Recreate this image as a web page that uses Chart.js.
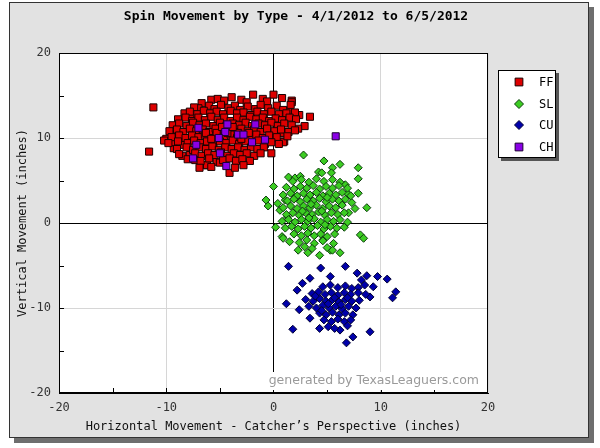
<!DOCTYPE html>
<html lang="en">
<head>
    <meta charset="UTF-8">
    <title>Spin Movement by Type</title>
    <script src="https://cdn.jsdelivr.net/npm/chart.js"></script>
    <style>
        body { margin: 0; background: #fff; }
        canvas { display: block; }
    </style>
</head>
<body>
    <canvas id="spinChart" width="600" height="448"></canvas>

    <script>
        // Chart text
        const chartTitle = 'Spin Movement by Type - 4/1/2012 to 6/5/2012';
        const xTitle = 'Horizontal Movement - Catcher\u2019s Perspective (inches)';
        const yTitle = 'Vertical Movement (inches)';
        const watermark = 'generated by TexasLeaguers.com';

        // Pitch types (legend order)
        const pitchTypes = ['FF', 'SL', 'CU', 'CH'];

        // Axis range / ticks
        const axisMin = -20;
        const axisMax = 20;
        const tickValues = [-20, -10, 0, 10, 20];

        // [horizontal, vertical] in inches
        const ffPoints = [
            [-11.2, 13.6], [-11.6, 8.4], [-10.0, 9.9], [-10.2, 9.7], [-9.1, 10.4], [-9.3, 8.8], [-8.5, 7.9],
            [-6.3, 6.8], [-6.7, 14.1], [-7.6, 12.4], [-3.9, 14.8], [-1.9, 15.1], [0.0, 15.1], [1.7, 14.4],
            [2.4, 12.7], [3.4, 12.5], [2.9, 11.4], [2.3, 11.1], [1.4, 13.2], [-0.2, 8.2], [-4.1, 5.9],
            [1.0, 9.6], [0.0, 10.0], [-5.8, 14.5], [-7.0, 13.5], [-9.4, 9.5], [-8.4, 9.2], [-7.8, 8.0],
            [-7.3, 7.4], [-5.3, 7.2], [-5.0, 7.1], [-6.2, 6.8], [1.7, 14.2], [0.9, 10.6], [0.9, 9.5],
            [-5.2, 14.6], [-4.6, 14.4], [-3.0, 14.5], [-2.5, 14.2], [-1.0, 14.6], [-0.6, 14.3], [0.8, 14.7],
            [-7.4, 13.6], [-6.0, 13.8], [-5.5, 13.4], [-4.9, 13.9], [-4.2, 13.5], [-3.6, 13.8], [-3.1, 13.3],
            [-2.4, 13.7], [-1.7, 13.4], [-1.2, 13.9], [-0.5, 13.5], [0.3, 13.8], [0.9, 13.3], [1.6, 13.9],
            [-8.3, 12.9], [-7.8, 13.1], [-7.1, 12.8], [-6.5, 13.2], [-5.9, 12.9], [-5.3, 13.1], [-4.7, 12.8],
            [-4.0, 13.2], [-3.4, 12.9], [-2.8, 13.0], [-2.1, 12.7], [-1.5, 13.1], [-0.9, 12.8], [-0.2, 13.1],
            [0.5, 12.8], [1.2, 12.9], [2.0, 13.0],
            [-8.9, 12.2], [-8.2, 12.4], [-7.6, 12.0], [-7.0, 12.4], [-6.4, 12.1], [-5.8, 12.5], [-5.2, 12.1],
            [-4.6, 12.4], [-4.0, 12.0], [-3.4, 12.4], [-2.8, 12.1], [-2.2, 12.5], [-1.6, 12.2], [-1.0, 12.4],
            [-0.4, 12.0], [0.2, 12.3], [0.8, 12.1], [1.5, 12.4], [2.1, 12.2],
            [-9.4, 11.5], [-8.8, 11.7], [-8.1, 11.4], [-7.5, 11.8], [-6.9, 11.5], [-6.3, 11.7], [-5.6, 11.4],
            [-5.0, 11.8], [-4.4, 11.4], [-3.8, 11.7], [-3.2, 11.5], [-2.6, 11.8], [-2.0, 11.4], [-1.4, 11.7],
            [-0.8, 11.5], [-0.2, 11.8], [0.4, 11.4], [1.0, 11.7], [1.7, 11.5],
            [-9.7, 10.8], [-9.0, 11.0], [-8.4, 10.7], [-7.8, 11.1], [-7.2, 10.8], [-6.6, 11.0], [-6.0, 10.7],
            [-5.4, 11.1], [-4.8, 10.8], [-4.2, 11.0], [-3.6, 10.7], [-3.0, 11.1], [-2.4, 10.8], [-1.8, 11.0],
            [-1.2, 10.7], [-0.6, 11.1], [0.1, 10.8], [0.7, 11.0], [1.4, 10.7], [2.0, 10.9],
            [-9.5, 10.1], [-8.8, 10.3], [-8.2, 10.0], [-7.6, 10.3], [-7.0, 10.1], [-6.4, 10.4], [-5.8, 10.0],
            [-5.2, 10.3], [-4.6, 10.1], [-4.0, 10.4], [-3.4, 10.0], [-2.8, 10.3], [-2.2, 10.1], [-1.6, 10.4],
            [-1.0, 10.0], [-0.4, 10.3], [0.3, 10.1], [1.3, 10.2],
            [-9.8, 9.4], [-8.9, 9.6], [-8.0, 9.4], [-7.4, 9.7], [-6.8, 9.4], [-6.2, 9.6], [-5.6, 9.3],
            [-5.0, 9.6], [-4.4, 9.4], [-3.8, 9.7], [-3.2, 9.3], [-2.6, 9.6], [-2.0, 9.4], [-1.4, 9.7],
            [-0.8, 9.3], [-0.2, 9.5], [0.5, 9.3],
            [-9.0, 8.7], [-8.1, 8.9], [-7.5, 8.6], [-6.9, 8.9], [-6.3, 8.7], [-5.7, 9.0], [-5.1, 8.6],
            [-4.5, 8.9], [-3.9, 8.7], [-3.3, 8.9], [-2.7, 8.6], [-2.1, 8.9], [-1.5, 8.7], [-0.9, 8.9],
            [-8.8, 8.1], [-7.3, 8.2], [-6.7, 7.9], [-6.1, 8.2], [-5.5, 8.0], [-4.9, 8.3], [-4.3, 7.9],
            [-3.7, 8.2], [-3.1, 8.0], [-2.5, 8.2], [-1.8, 7.9], [-1.2, 8.2],
            [-8.0, 7.5], [-6.8, 7.3], [-6.0, 7.6], [-4.7, 7.4], [-4.1, 7.6], [-3.5, 7.3], [-2.9, 7.5], [-2.2, 7.3],
            [-6.9, 6.5], [-5.8, 6.6], [-3.6, 6.5], [-2.8, 6.8],
            [-5.3, 10.6], [-4.3, 10.6], [-3.3, 10.6], [-6.3, 10.6], [-2.3, 10.6], [-4.8, 11.3], [-3.8, 11.3],
            [-5.8, 9.9], [-3.0, 9.9]
        ];

        const slPoints = [
            [2.8, 8.0], [4.7, 7.3], [6.2, 6.9], [7.9, 6.5], [7.9, 5.2], [7.9, 3.5], [8.7, 1.8], [8.1, -1.4],
            [8.4, -1.8], [0.0, 4.3], [-0.7, 2.7], [-0.5, 2.0], [0.2, -0.5], [0.8, -1.6], [1.5, -2.2],
            [2.3, -3.2], [3.2, -3.5], [4.3, -3.8], [5.3, -3.2], [6.2, -3.5],
            [1.4, 5.4], [2.0, 5.3], [2.5, 5.5], [0.4, 2.3], [1.1, 2.7], [0.6, 1.5], [1.3, 0.7], [0.9, -1.8],
            [5.5, 6.5], [4.2, 6.0], [4.5, 5.9], [5.4, 5.9], [5.5, -3.2], [5.0, -2.9], [4.6, -2.0],
            [7.3, 2.4], [7.0, 1.2], [6.7, 4.5], [6.9, 3.5],
            [1.8, 4.9], [2.6, 5.1], [3.3, 4.8], [4.0, 5.2], [4.7, 4.9], [5.5, 5.1], [6.2, 4.8],
            [1.2, 4.2], [1.9, 4.0], [2.5, 4.3], [3.1, 4.1], [3.7, 4.4], [4.3, 4.0], [4.9, 4.3], [5.5, 4.1],
            [6.1, 4.4], [6.9, 4.1],
            [0.9, 3.3], [1.6, 3.5], [2.2, 3.2], [2.8, 3.5], [3.4, 3.3], [4.0, 3.6], [4.6, 3.2], [5.2, 3.5],
            [5.8, 3.3], [6.4, 3.6], [7.2, 3.2],
            [1.3, 2.6], [1.9, 2.8], [2.5, 2.5], [3.1, 2.8], [3.7, 2.6], [4.3, 2.9], [4.9, 2.5], [5.5, 2.8],
            [6.1, 2.6], [6.7, 2.8],
            [0.9, 1.8], [1.6, 2.0], [2.2, 1.7], [2.8, 2.0], [3.4, 1.8], [4.0, 2.1], [4.6, 1.7], [5.2, 2.0],
            [5.8, 1.8], [6.4, 2.1], [7.6, 1.7],
            [1.2, 1.0], [1.8, 1.2], [2.4, 0.9], [3.0, 1.2], [3.6, 1.0], [4.2, 1.3], [4.8, 0.9], [5.4, 1.2],
            [6.0, 1.0], [6.6, 1.2],
            [0.8, 0.2], [1.4, 0.4], [2.0, 0.1], [2.6, 0.4], [3.2, 0.2], [3.8, 0.5], [4.4, 0.1], [5.0, 0.4],
            [5.6, 0.2], [6.2, 0.4], [6.9, 0.1],
            [1.1, -0.6], [1.7, -0.4], [2.3, -0.7], [2.9, -0.4], [3.5, -0.6], [4.1, -0.3], [4.7, -0.7],
            [5.3, -0.4], [5.9, -0.6], [6.6, -0.5],
            [1.9, -1.3], [2.6, -1.5], [3.2, -1.2], [3.8, -1.5], [4.4, -1.3], [5.0, -1.6], [5.7, -1.3],
            [2.4, -2.3], [3.1, -2.0], [3.8, -2.4], [4.6, -2.1], [5.6, -2.4], [3.6, -3.0], [2.9, -2.8],
            [3.5, 2.2], [4.5, 1.4], [2.7, 1.4], [5.0, 3.0], [3.3, 0.6], [4.8, -0.2]
        ];

        const cuPoints = [
            [1.4, -5.1], [4.4, -5.3], [6.7, -5.1], [7.8, -5.9], [8.7, -6.2], [9.7, -6.3], [10.6, -6.6],
            [11.4, -8.1], [11.1, -8.8], [1.2, -9.5], [1.8, -12.5], [9.0, -12.8], [6.8, -14.1], [7.4, -13.4],
            [5.3, -6.3], [2.7, -7.1], [2.2, -7.9], [3.4, -6.5], [2.4, -10.2], [3.4, -11.2], [4.3, -12.4],
            [6.2, -12.6], [9.0, -8.7], [9.3, -7.5], [8.2, -6.7], [8.5, -7.3], [7.9, -7.6],
            [4.6, -7.5], [5.3, -7.3], [6.0, -7.6], [6.7, -7.4], [7.3, -7.7],
            [3.6, -8.3], [4.2, -8.1], [4.8, -8.4], [5.4, -8.2], [6.0, -8.5], [6.6, -8.2], [7.2, -8.4],
            [7.9, -8.2], [8.6, -8.4],
            [3.0, -9.0], [3.7, -9.2], [4.3, -8.9], [4.9, -9.2], [5.5, -9.0], [6.1, -9.3], [6.7, -9.0],
            [7.3, -9.2], [8.0, -9.1],
            [3.3, -9.8], [4.0, -10.0], [4.6, -9.7], [5.2, -10.0], [5.8, -9.8], [6.4, -10.1], [7.0, -9.8],
            [7.7, -10.0],
            [4.3, -10.6], [4.9, -10.8], [5.5, -10.5], [6.1, -10.8], [6.7, -10.6], [7.4, -10.8],
            [4.7, -11.4], [5.4, -11.6], [6.0, -11.3], [6.6, -11.6], [7.2, -11.4],
            [5.1, -12.2], [5.7, -12.4], [6.9, -12.1],
            [5.7, -8.8], [6.3, -9.6], [5.1, -9.5], [4.5, -10.3], [6.9, -8.8], [3.9, -8.6]
        ];

        const chPoints = [
            [-7.0, 11.2], [-4.3, 11.6], [-4.5, 10.7], [-1.7, 11.6], [-3.3, 10.4], [-2.8, 10.4], [-2.0, 9.5],
            [-0.8, 9.8], [-5.1, 10.0], [-7.2, 9.2], [-5.0, 8.2], [-7.5, 7.6], [-4.4, 6.7], [5.8, 10.2]
        ];

        const toXY = pts => pts.map(p => ({ x: p[0], y: p[1] }));

        // Background panel, title, frame, inner ticks, watermark and legend
        const decorPlugin = {
            id: 'decor',
            beforeDraw(chart) {
                const ctx = chart.ctx;
                const a = chart.chartArea;
                ctx.save();
                ctx.fillStyle = '#ffffff';
                ctx.fillRect(0, 0, chart.width, chart.height);
                // panel shadow + panel
                ctx.fillStyle = '#6e6e6e';
                ctx.fillRect(14, 7, 580, 436);
                ctx.fillStyle = '#e2e2e2';
                ctx.fillRect(9, 2, 580, 436);
                ctx.strokeStyle = '#333';
                ctx.lineWidth = 1;
                ctx.strokeRect(9.5, 2.5, 579, 435);
                // title
                ctx.fillStyle = '#000';
                ctx.font = 'bold 13px "DejaVu Sans Mono", monospace';
                ctx.textAlign = 'center';
                ctx.textBaseline = 'middle';
                ctx.fillText(chartTitle, 296, 17);
                // plot area
                ctx.fillStyle = '#ffffff';
                ctx.fillRect(a.left, a.top, a.right - a.left, a.bottom - a.top);
                ctx.restore();
            },
            beforeDatasetsDraw(chart) {
                const ctx = chart.ctx;
                const a = chart.chartArea;
                const xs = chart.scales.x, ys = chart.scales.y;
                ctx.save();
                ctx.strokeStyle = '#000';
                ctx.lineWidth = 1;
                ctx.beginPath();
                [-15, -10, -5, 5, 10, 15].forEach(v => {
                    const px = Math.round(xs.getPixelForValue(v)) + 0.5;
                    ctx.moveTo(px, a.bottom);
                    ctx.lineTo(px, a.bottom - 5);
                    const py = Math.round(ys.getPixelForValue(v)) + 0.5;
                    ctx.moveTo(a.left, py);
                    ctx.lineTo(a.left + 5, py);
                });
                ctx.stroke();
                ctx.restore();
            },
            afterDraw(chart) {
                const ctx = chart.ctx;
                const a = chart.chartArea;
                ctx.save();
                // watermark
                ctx.font = '12.5px "DejaVu Sans", Verdana, sans-serif';
                const tw = ctx.measureText(watermark).width;
                const tx = a.right - 9 - tw;
                const ty = a.bottom - 12;
                ctx.fillStyle = '#ffffff';
                ctx.fillRect(tx - 4, ty - 9, tw + 8, 18);
                ctx.fillStyle = '#9a9a9a';
                ctx.textBaseline = 'middle';
                ctx.fillText(watermark, tx, ty);
                // frame
                ctx.strokeStyle = '#000';
                ctx.lineWidth = 1;
                ctx.strokeRect(Math.round(a.left) + 0.5, Math.round(a.top) + 0.5,
                    Math.round(a.right - a.left) - 1, Math.round(a.bottom - a.top) - 1);
                // legend
                const lx = 498, ly = 70, lw = 58, lh = 88;
                ctx.fillStyle = '#555';
                ctx.fillRect(lx + 3, ly + 3, lw, lh);
                ctx.fillStyle = '#fff';
                ctx.fillRect(lx, ly, lw, lh);
                ctx.strokeStyle = '#000';
                ctx.strokeRect(lx + 0.5, ly + 0.5, lw - 1, lh - 1);
                const rows = [82, 104, 125, 147];
                ctx.font = '12px "DejaVu Sans Mono", monospace';
                ctx.textBaseline = 'middle';
                pitchTypes.forEach((name, i) => {
                    const ds = chart.data.datasets[i];
                    ctx.fillStyle = ds.backgroundColor;
                    ctx.strokeStyle = ds.borderColor;
                    ctx.lineWidth = 1;
                    Chart.helpers.drawPoint(ctx, {
                        pointStyle: ds.pointStyle,
                        radius: ds.pointRadius + 0.5,
                        borderWidth: 1
                    }, 519, rows[i]);
                    ctx.fillStyle = '#000';
                    ctx.fillText(name, 539, rows[i] + 1);
                });
                ctx.restore();
            }
        };

        const gridColor = c => {
            if (c.tick.value === 0) return '#000000';
            if (c.tick.value % 10 === 0) return '#d6d6d6';
            return 'rgba(0,0,0,0)';
        };

        const tickFont = { family: '"DejaVu Sans Mono", monospace', size: 12 };

        new Chart(document.getElementById('spinChart'), {
            type: 'scatter',
            data: {
                datasets: [
                    { label: pitchTypes[0], data: toXY(ffPoints), pointStyle: 'rect', pointRadius: 5,
                      backgroundColor: '#dd0000', borderColor: '#1a0000', borderWidth: 1, order: 4 },
                    { label: pitchTypes[1], data: toXY(slPoints), pointStyle: 'rectRot', pointRadius: 4,
                      backgroundColor: '#3ccc22', borderColor: '#0d3d0d', borderWidth: 1, order: 3 },
                    { label: pitchTypes[2], data: toXY(cuPoints), pointStyle: 'rectRot', pointRadius: 4,
                      backgroundColor: '#0000aa', borderColor: '#000033', borderWidth: 1, order: 2 },
                    { label: pitchTypes[3], data: toXY(chPoints), pointStyle: 'rect', pointRadius: 5,
                      backgroundColor: '#8a00e6', borderColor: '#1a0030', borderWidth: 1, order: 1 }
                ]
            },
            options: {
                responsive: false,
                animation: false,
                layout: { padding: { left: 10, right: 112, top: 53, bottom: 10 } },
                plugins: {
                    legend: { display: false },
                    tooltip: { enabled: false },
                    title: { display: false }
                },
                scales: {
                    x: {
                        min: axisMin, max: axisMax,
                        afterFit: s => { s.height = 45; },
                        border: { display: true, color: '#000' },
                        grid: { color: gridColor, drawTicks: false },
                        ticks: {
                            stepSize: 5, padding: 8, color: '#333', font: tickFont, maxRotation: 0,
                            callback: v => tickValues.includes(v) ? String(v) : ''
                        },
                        title: {
                            display: true, text: xTitle, color: '#111', font: tickFont,
                            padding: { top: 0, bottom: 4 }
                        }
                    },
                    y: {
                        min: axisMin, max: axisMax,
                        afterFit: s => { s.width = 49; },
                        border: { display: true, color: '#000' },
                        grid: { color: gridColor, drawTicks: false },
                        ticks: {
                            stepSize: 5, padding: 8, color: '#333', font: tickFont,
                            callback: v => tickValues.includes(v) ? String(v) : ''
                        },
                        title: {
                            display: true, text: yTitle, color: '#111', font: tickFont,
                            padding: { top: 6, bottom: 0 }
                        }
                    }
                }
            },
            plugins: [decorPlugin]
        });
    </script>
</body>
</html>
